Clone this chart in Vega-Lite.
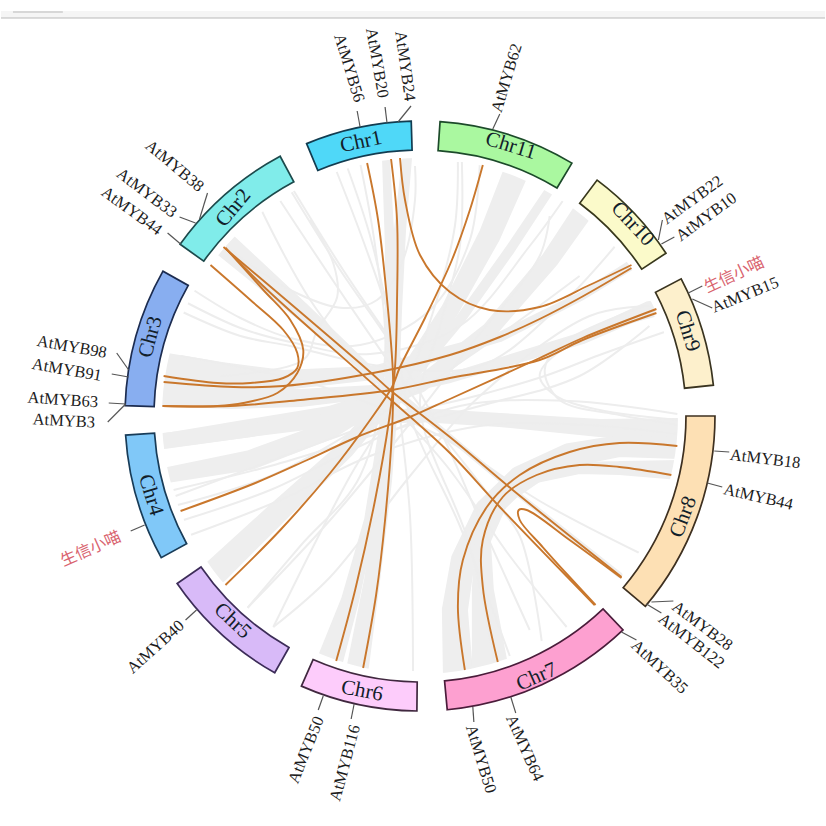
{
"$schema":"https://vega.github.io/schema/vega-lite/v6.json",
"width":826,"height":826,
"autosize":{"type":"fit","contains":"padding"},
"padding":0,
"background":"#ffffff",
"view":{"stroke":null},
"datasets":{
"chroms":[
{"chr":"Chr1","x":0,"y":0,"a0":337.4,"a1":358.3,"r0":266,"r1":295},
{"chr":"Chr11","x":0,"y":0,"a0":3.9,"a1":31,"r0":266,"r1":295},
{"chr":"Chr10","x":0,"y":0,"a0":36.9,"a1":56.5,"r0":266,"r1":295},
{"chr":"Chr9","x":0,"y":0,"a0":62.3,"a1":84,"r0":266,"r1":295},
{"chr":"Chr8","x":0,"y":0,"a0":90,"a1":130.2,"r0":266,"r1":295},
{"chr":"Chr7","x":0,"y":0,"a0":136.5,"a1":174.7,"r0":266,"r1":295},
{"chr":"Chr6","x":0,"y":0,"a0":180.6,"a1":203.7,"r0":266,"r1":295},
{"chr":"Chr5","x":0,"y":0,"a0":209.5,"a1":235.4,"r0":266,"r1":295},
{"chr":"Chr4","x":0,"y":0,"a0":241.3,"a1":266.3,"r0":266,"r1":295},
{"chr":"Chr3","x":0,"y":0,"a0":272,"a1":299.4,"r0":266,"r1":295},
{"chr":"Chr2","x":0,"y":0,"a0":305.6,"a1":331.7,"r0":266,"r1":295}
],
"chromLabels":[
{"t":"Chr1","x":-59,"y":-274,"rot":-12},
{"t":"Chr11","x":91,"y":-270,"rot":17},
{"t":"Chr10","x":213,"y":-192,"rot":47},
{"t":"Chr9","x":268,"y":-85,"rot":73},
{"t":"Chr8","x":264,"y":101,"rot":-69},
{"t":"Chr7","x":117,"y":261,"rot":-24},
{"t":"Chr6","x":-58,"y":275,"rot":11},
{"t":"Chr5","x":-188,"y":205,"rot":43},
{"t":"Chr4","x":-270,"y":79,"rot":73},
{"t":"Chr3","x":-270,"y":-79,"rot":-75},
{"t":"Chr2","x":-187,"y":-208,"rot":-50}
],
"genes":[
{"t":"AtMYB56","x":-71,"y":-348,"rot":73},
{"t":"AtMYB20","x":-43,"y":-353,"rot":80},
{"t":"AtMYB24","x":-15,"y":-350,"rot":82},
{"t":"AtMYB62","x":87,"y":-338,"rot":-73},
{"t":"AtMYB22","x":273,"y":-216,"rot":-36},
{"t":"AtMYB10","x":287,"y":-199,"rot":-36},
{"t":"AtMYB15","x":326,"y":-121,"rot":-22},
{"t":"AtMYB18","x":346,"y":43,"rot":7},
{"t":"AtMYB44","x":339,"y":81,"rot":13},
{"t":"AtMYB28","x":283,"y":210,"rot":37},
{"t":"AtMYB122","x":272,"y":225,"rot":38},
{"t":"AtMYB35","x":240,"y":251,"rot":43},
{"t":"AtMYB64","x":105,"y":332,"rot":66},
{"t":"AtMYB50","x":61,"y":343,"rot":73},
{"t":"AtMYB116","x":-75,"y":347,"rot":-75},
{"t":"AtMYB50","x":-114,"y":334,"rot":-68},
{"t":"AtMYB40","x":-265,"y":231,"rot":-42},
{"t":"AtMYB3","x":-357,"y":5,"rot":3},
{"t":"AtMYB63","x":-358,"y":-16,"rot":4},
{"t":"AtMYB91","x":-354,"y":-46,"rot":10},
{"t":"AtMYB98","x":-349,"y":-69,"rot":10},
{"t":"AtMYB44","x":-289,"y":-205,"rot":36},
{"t":"AtMYB33","x":-274,"y":-223,"rot":37},
{"t":"AtMYB38","x":-246,"y":-250,"rot":40}
],
"marks":[
{"t":"生信小喵","x":315,"y":-141,"rot":-25},
{"t":"生信小喵","x":-330,"y":133,"rot":-24}
],
"leaders":[
{"x":-63,"y":-305,"x2":-60,"y2":-289},
{"x":-35,"y":-309,"x2":-33,"y2":-293},
{"x":-9,"y":-310,"x2":-22,"y2":-294},
{"x":80,"y":-302,"x2":73,"y2":-287},
{"x":243,"y":-196,"x2":239,"y2":-176},
{"x":255,"y":-179,"x2":242,"y2":-172},
{"x":283,"y":-130,"x2":269,"y2":-123},
{"x":293,"y":-108,"x2":273,"y2":-117},
{"x":295,"y":35,"x2":310,"y2":36},
{"x":288,"y":67,"x2":303,"y2":71},
{"x":232,"y":186,"x2":254,"y2":185},
{"x":227,"y":188,"x2":242,"y2":197},
{"x":202,"y":216,"x2":217,"y2":224},
{"x":91,"y":281,"x2":96,"y2":297},
{"x":53,"y":291,"x2":54,"y2":306},
{"x":-66,"y":288,"x2":-69,"y2":303},
{"x":-97,"y":280,"x2":-102,"y2":294},
{"x":-224,"y":194,"x2":-235,"y2":204},
{"x":-276,"y":109,"x2":-290,"y2":115},
{"x":-295,"y":-12,"x2":-313,"y2":6},
{"x":-295,"y":-12,"x2":-312,"y2":-13},
{"x":-292,"y":-39,"x2":-309,"y2":-42},
{"x":-292,"y":-46,"x2":-304,"y2":-63},
{"x":-240,"y":-172,"x2":-253,"y2":-183},
{"x":-225,"y":-193,"x2":-241,"y2":-199},
{"x":-221,"y":-197,"x2":-213,"y2":-223}
],
"ribbons":[
{"id":"T1","i":0,"x":-13,"y":-258,"w":10},{"id":"T1","i":1,"x":-20,"y":-186,"w":12},{"id":"T1","i":2,"x":-24,"y":-106,"w":12},{"id":"T1","i":3,"x":-27,"y":-26,"w":12},{"id":"T1","i":4,"x":-35,"y":64,"w":14},{"id":"T1","i":5,"x":-48,"y":164,"w":16},{"id":"T1","i":6,"x":-62,"y":249,"w":22},
{"id":"T2","i":0,"x":-34,"y":-256,"w":8},{"id":"T2","i":1,"x":-30,"y":-166,"w":10},{"id":"T2","i":2,"x":-30,"y":-26,"w":10},{"id":"T2","i":3,"x":-50,"y":104,"w":12},{"id":"T2","i":4,"x":-70,"y":184,"w":18},{"id":"T2","i":5,"x":-90,"y":244,"w":26},
{"id":"T3","i":0,"x":95,"y":-241,"w":25},{"id":"T3","i":1,"x":70,"y":-181,"w":22},{"id":"T3","i":2,"x":30,"y":-106,"w":18},{"id":"T3","i":3,"x":-20,"y":-31,"w":16},{"id":"T3","i":4,"x":-75,"y":34,"w":18},{"id":"T3","i":5,"x":-140,"y":94,"w":22},{"id":"T3","i":6,"x":-204,"y":155,"w":26},
{"id":"T4","i":0,"x":128,"y":-223,"w":9},{"id":"T4","i":1,"x":90,"y":-166,"w":10},{"id":"T4","i":2,"x":40,"y":-96,"w":10},{"id":"T4","i":3,"x":-20,"y":-26,"w":12},{"id":"T4","i":4,"x":-90,"y":14,"w":18},{"id":"T4","i":5,"x":-170,"y":44,"w":20},{"id":"T4","i":6,"x":-253,"y":59,"w":16},
{"id":"T5","i":0,"x":163,"y":-204,"w":20},{"id":"T5","i":1,"x":130,"y":-156,"w":18},{"id":"T5","i":2,"x":70,"y":-86,"w":16},{"id":"T5","i":3,"x":0,"y":-31,"w":16},{"id":"T5","i":4,"x":-90,"y":-1,"w":18},{"id":"T5","i":5,"x":-170,"y":12,"w":18},{"id":"T5","i":6,"x":-257,"y":25,"w":15},
{"id":"T6","i":0,"x":210,"y":-150,"w":10},{"id":"T6","i":1,"x":162,"y":-120,"w":9},{"id":"T6","i":2,"x":80,"y":-79,"w":10},{"id":"T6","i":3,"x":-47,"y":-43,"w":14},{"id":"T6","i":4,"x":-137,"y":-36,"w":20},{"id":"T6","i":5,"x":-200,"y":-41,"w":26},{"id":"T6","i":6,"x":-255,"y":-48,"w":30},
{"id":"T7","i":0,"x":230,"y":-108,"w":14},{"id":"T7","i":1,"x":163,"y":-78,"w":12},{"id":"T7","i":2,"x":30,"y":-38,"w":10},{"id":"T7","i":3,"x":-28,"y":-26,"w":12},{"id":"T7","i":4,"x":-120,"y":-18,"w":18},{"id":"T7","i":5,"x":-190,"y":-18,"w":22},{"id":"T7","i":6,"x":-257,"y":-23,"w":26},
{"id":"T8","i":0,"x":-195,"y":-171,"w":25},{"id":"T8","i":1,"x":-120,"y":-106,"w":18},{"id":"T8","i":2,"x":-50,"y":-44,"w":10},{"id":"T8","i":3,"x":30,"y":21,"w":6},{"id":"T8","i":4,"x":93,"y":74,"w":5},{"id":"T8","i":5,"x":200,"y":159,"w":6},
{"id":"T10","i":0,"x":260,"y":14,"w":24},{"id":"T10","i":1,"x":180,"y":12,"w":18},{"id":"T10","i":2,"x":80,"y":4,"w":14},{"id":"T10","i":3,"x":0,"y":-1,"w":14},{"id":"T10","i":4,"x":-90,"y":4,"w":14},{"id":"T10","i":5,"x":-170,"y":14,"w":14},{"id":"T10","i":6,"x":-257,"y":25,"w":16},
{"id":"T11","i":0,"x":260,"y":32,"w":22},{"id":"T11","i":1,"x":200,"y":30,"w":22},{"id":"T11","i":2,"x":150,"y":39,"w":24},{"id":"T11","i":3,"x":100,"y":62,"w":24},{"id":"T11","i":4,"x":67,"y":94,"w":24},{"id":"T11","i":5,"x":43,"y":144,"w":24},{"id":"T11","i":6,"x":35,"y":194,"w":26},{"id":"T11","i":7,"x":38,"y":256,"w":30},
{"id":"T12","i":0,"x":260,"y":54,"w":20},{"id":"T12","i":1,"x":200,"y":52,"w":14},{"id":"T12","i":2,"x":160,"y":52,"w":12},{"id":"T12","i":3,"x":117,"y":62,"w":10},{"id":"T12","i":4,"x":83,"y":84,"w":12},{"id":"T12","i":5,"x":63,"y":124,"w":16},{"id":"T12","i":6,"x":63,"y":174,"w":22},{"id":"T12","i":7,"x":70,"y":249,"w":36}
],
"thin":[
{"id":"n1","i":0,"x":-85,"y":-248},{"id":"n1","i":1,"x":-55,"y":-170},{"id":"n1","i":2,"x":-25,"y":-80},{"id":"n1","i":3,"x":-10,"y":0},{"id":"n1","i":4,"x":40,"y":110},{"id":"n1","i":5,"x":90,"y":240},
{"id":"n2","i":0,"x":-73,"y":-249},{"id":"n2","i":1,"x":-50,"y":-180},{"id":"n2","i":2,"x":-30,"y":-90},{"id":"n2","i":3,"x":-20,"y":0},{"id":"n2","i":4,"x":-10,"y":100},{"id":"n2","i":5,"x":-7,"y":255},
{"id":"n3","i":0,"x":-60,"y":-253},{"id":"n3","i":1,"x":-45,"y":-170},{"id":"n3","i":2,"x":-35,"y":-60},{"id":"n3","i":3,"x":-60,"y":60},{"id":"n3","i":4,"x":-120,"y":130},{"id":"n3","i":5,"x":-173,"y":192},
{"id":"n4","i":0,"x":38,"y":-254},{"id":"n4","i":1,"x":35,"y":-190},{"id":"n4","i":2,"x":15,"y":-110},{"id":"n4","i":3,"x":-15,"y":-30},{"id":"n4","i":4,"x":-70,"y":60},{"id":"n4","i":5,"x":-147,"y":211},
{"id":"n5","i":0,"x":42,"y":-254},{"id":"n5","i":1,"x":40,"y":-170},{"id":"n5","i":2,"x":20,"y":-90},{"id":"n5","i":3,"x":0,"y":-10},{"id":"n5","i":4,"x":50,"y":130},{"id":"n5","i":5,"x":75,"y":250},
{"id":"n6","i":0,"x":-227,"y":-126},{"id":"n6","i":1,"x":-180,"y":-98},{"id":"n6","i":2,"x":-130,"y":-78},{"id":"n6","i":3,"x":-60,"y":-71},{"id":"n6","i":4,"x":10,"y":-106},{"id":"n6","i":5,"x":50,"y":-176},{"id":"n6","i":6,"x":60,"y":-253},
{"id":"n7","i":0,"x":-235,"y":-114},{"id":"n7","i":1,"x":-180,"y":-88},{"id":"n7","i":2,"x":-130,"y":-74},{"id":"n7","i":3,"x":-50,"y":-62},{"id":"n7","i":4,"x":40,"y":-90},{"id":"n7","i":5,"x":110,"y":-170},{"id":"n7","i":6,"x":150,"y":-225},
{"id":"n8","i":0,"x":-238,"y":-104},{"id":"n8","i":1,"x":-180,"y":-80},{"id":"n8","i":2,"x":-130,"y":-70},{"id":"n8","i":3,"x":-40,"y":-50},{"id":"n8","i":4,"x":60,"y":-50},{"id":"n8","i":5,"x":140,"y":-110},{"id":"n8","i":6,"x":200,"y":-175},
{"id":"n9","i":0,"x":245,"y":-84},{"id":"n9","i":1,"x":180,"y":-61},{"id":"n9","i":2,"x":128,"y":-41},{"id":"n9","i":3,"x":60,"y":-21},{"id":"n9","i":4,"x":-20,"y":-1},{"id":"n9","i":5,"x":-120,"y":34},{"id":"n9","i":6,"x":-245,"y":80},
{"id":"n10","i":0,"x":235,"y":-100},{"id":"n10","i":1,"x":150,"y":-71},{"id":"n10","i":2,"x":120,"y":-41},{"id":"n10","i":3,"x":135,"y":-21},{"id":"n10","i":4,"x":180,"y":-6},{"id":"n10","i":5,"x":260,"y":4},
{"id":"n11","i":0,"x":225,"y":-110},{"id":"n11","i":1,"x":140,"y":-71},{"id":"n11","i":2,"x":125,"y":-46},{"id":"n11","i":3,"x":140,"y":-16},{"id":"n11","i":4,"x":200,"y":-1},{"id":"n11","i":5,"x":260,"y":9},
{"id":"n12","i":0,"x":-130,"y":-226},{"id":"n12","i":1,"x":-80,"y":-146},{"id":"n12","i":2,"x":-25,"y":-66},{"id":"n12","i":3,"x":20,"y":14},{"id":"n12","i":4,"x":60,"y":104},{"id":"n12","i":5,"x":110,"y":214},
{"id":"n12b","i":0,"x":-127,"y":-226},{"id":"n12b","i":1,"x":-77,"y":-146},{"id":"n12b","i":2,"x":-22,"y":-66},
{"id":"n13","i":0,"x":-160,"y":-208},{"id":"n13","i":1,"x":-110,"y":-116},{"id":"n13","i":2,"x":-40,"y":-26},{"id":"n13","i":3,"x":30,"y":54},{"id":"n13","i":4,"x":90,"y":140},{"id":"n13","i":5,"x":147,"y":211},
{"id":"n14","i":0,"x":-110,"y":-196},{"id":"n14","i":1,"x":-87,"y":-153},{"id":"n14","i":2,"x":-83,"y":-119},{"id":"n14","i":3,"x":-103,"y":-86},{"id":"n14","i":4,"x":-117,"y":-56},{"id":"n14","i":5,"x":-200,"y":-40},
{"id":"n15","i":0,"x":-195,"y":-170},{"id":"n15","i":1,"x":-130,"y":-126},{"id":"n15","i":2,"x":-77,"y":-108},{"id":"n15","i":3,"x":-43,"y":-116},{"id":"n15","i":4,"x":-17,"y":-156},{"id":"n15","i":5,"x":-5,"y":-216},{"id":"n15","i":6,"x":-5,"y":-250},
{"id":"n16","i":0,"x":-173,"y":192},{"id":"n16","i":1,"x":-90,"y":104},{"id":"n16","i":2,"x":-20,"y":20},{"id":"n16","i":3,"x":50,"y":-70},{"id":"n16","i":4,"x":120,"y":-160},{"id":"n16","i":5,"x":130,"y":-200},
{"id":"n17","i":0,"x":-147,"y":211},{"id":"n17","i":1,"x":-90,"y":161},{"id":"n17","i":2,"x":-10,"y":60},{"id":"n17","i":3,"x":60,"y":-20},{"id":"n17","i":4,"x":170,"y":-100},{"id":"n17","i":5,"x":230,"y":-110},
{"id":"n18","i":0,"x":-247,"y":74},{"id":"n18","i":1,"x":-150,"y":50},{"id":"n18","i":2,"x":-50,"y":20},{"id":"n18","i":3,"x":60,"y":-10},{"id":"n18","i":4,"x":160,"y":-40},{"id":"n18","i":5,"x":230,"y":-90},
{"id":"n19","i":0,"x":-243,"y":89},{"id":"n19","i":1,"x":-150,"y":60},{"id":"n19","i":2,"x":-50,"y":5},{"id":"n19","i":3,"x":50,"y":-60},{"id":"n19","i":4,"x":160,"y":-140},
{"id":"n20","i":0,"x":-237,"y":104},{"id":"n20","i":1,"x":-150,"y":74},{"id":"n20","i":2,"x":-60,"y":30},{"id":"n20","i":3,"x":40,"y":-10},{"id":"n20","i":4,"x":150,"y":-15},{"id":"n20","i":5,"x":258,"y":-2},
{"id":"n21","i":0,"x":-230,"y":119},{"id":"n21","i":1,"x":-140,"y":84},{"id":"n21","i":2,"x":-50,"y":40},{"id":"n21","i":3,"x":60,"y":10},{"id":"n21","i":4,"x":150,"y":8},{"id":"n21","i":5,"x":258,"y":18},
{"id":"n24","i":0,"x":-140,"y":-215},{"id":"n24","i":1,"x":-70,"y":-110},{"id":"n24","i":2,"x":0,"y":-10},{"id":"n24","i":3,"x":70,"y":80},{"id":"n24","i":4,"x":100,"y":120},{"id":"n24","i":5,"x":122,"y":225},
{"id":"n25","i":0,"x":-240,"y":-60},{"id":"n25","i":1,"x":-100,"y":-30},{"id":"n25","i":2,"x":20,"y":20},{"id":"n25","i":3,"x":120,"y":85},{"id":"n25","i":4,"x":220,"y":137}
],
"links":[
{"id":"a","i":0,"x":-53,"y":-253},{"id":"a","i":1,"x":-42,"y":-196},{"id":"a","i":2,"x":-32,"y":-106},{"id":"a","i":3,"x":-27,"y":-39},{"id":"a","i":4,"x":-28,"y":14},{"id":"a","i":5,"x":-35,"y":104},{"id":"a","i":6,"x":-44,"y":179},{"id":"a","i":7,"x":-57,"y":252},
{"id":"b","i":0,"x":-29,"y":-257},{"id":"b","i":1,"x":-23,"y":-196},{"id":"b","i":2,"x":-23,"y":-116},{"id":"b","i":3,"x":-25,"y":-49},{"id":"b","i":4,"x":-31,"y":4},{"id":"b","i":5,"x":-45,"y":84},{"id":"b","i":6,"x":-65,"y":174},{"id":"b","i":7,"x":-84,"y":245},
{"id":"c","i":0,"x":-20,"y":-258},{"id":"c","i":1,"x":-15,"y":-216},{"id":"c","i":2,"x":0,"y":-161},{"id":"c","i":3,"x":30,"y":-124},{"id":"c","i":4,"x":70,"y":-106},{"id":"c","i":5,"x":120,"y":-109},{"id":"c","i":6,"x":170,"y":-131},{"id":"c","i":7,"x":212,"y":-151},
{"id":"d","i":0,"x":63,"y":-251},{"id":"d","i":1,"x":50,"y":-206},{"id":"d","i":2,"x":32,"y":-156},{"id":"d","i":3,"x":5,"y":-98},{"id":"d","i":4,"x":-20,"y":-49},{"id":"d","i":5,"x":-28,"y":-29},{"id":"d","i":6,"x":-50,"y":4},{"id":"d","i":7,"x":-90,"y":57},{"id":"d","i":8,"x":-140,"y":114},{"id":"d","i":9,"x":-195,"y":169},
{"id":"e","i":0,"x":212,"y":-148},{"id":"e","i":1,"x":162,"y":-119},{"id":"e","i":2,"x":120,"y":-97},{"id":"e","i":3,"x":80,"y":-79},{"id":"e","i":4,"x":30,"y":-61},{"id":"e","i":5,"x":-47,"y":-43},{"id":"e","i":6,"x":-137,"y":-30},{"id":"e","i":7,"x":-187,"y":-29},{"id":"e","i":8,"x":-257,"y":-34},
{"id":"f","i":0,"x":237,"y":-103},{"id":"f","i":1,"x":163,"y":-76},{"id":"f","i":2,"x":120,"y":-56},{"id":"f","i":3,"x":30,"y":-38},{"id":"f","i":4,"x":-28,"y":-26},{"id":"f","i":5,"x":-120,"y":-16},{"id":"f","i":6,"x":-190,"y":-10},{"id":"f","i":7,"x":-258,"y":-10},
{"id":"g","i":0,"x":237,"y":-107},{"id":"g","i":1,"x":163,"y":-78},{"id":"g","i":2,"x":120,"y":-58},{"id":"g","i":3,"x":30,"y":-17},{"id":"g","i":4,"x":-10,"y":1},{"id":"g","i":5,"x":-63,"y":21},{"id":"g","i":6,"x":-113,"y":44},{"id":"g","i":7,"x":-165,"y":67},{"id":"g","i":8,"x":-240,"y":95},
{"id":"m","i":0,"x":-210,"y":-151},{"id":"m","i":1,"x":-170,"y":-116},{"id":"m","i":2,"x":-137,"y":-86},{"id":"m","i":3,"x":-123,"y":-63},{"id":"m","i":4,"x":-123,"y":-48},{"id":"m","i":5,"x":-137,"y":-38},{"id":"m","i":6,"x":-170,"y":-33},{"id":"m","i":7,"x":-203,"y":-33},{"id":"m","i":8,"x":-257,"y":-40},
{"id":"o","i":0,"x":-195,"y":-168},{"id":"o","i":1,"x":-157,"y":-126},{"id":"o","i":2,"x":-130,"y":-96},{"id":"o","i":3,"x":-117,"y":-66},{"id":"o","i":4,"x":-123,"y":-43},{"id":"o","i":5,"x":-143,"y":-23},{"id":"o","i":6,"x":-177,"y":-13},{"id":"o","i":7,"x":-203,"y":-10},{"id":"o","i":8,"x":-258,"y":-10},
{"id":"h","i":0,"x":-197,"y":-169},{"id":"h","i":1,"x":-120,"y":-104},{"id":"h","i":2,"x":-50,"y":-44},{"id":"h","i":3,"x":-30,"y":-26},{"id":"h","i":4,"x":30,"y":21},{"id":"h","i":5,"x":93,"y":74},{"id":"h","i":6,"x":202,"y":161},
{"id":"p","i":0,"x":-195,"y":-168},{"id":"p","i":1,"x":-153,"y":-126},{"id":"p","i":2,"x":-37,"y":-23},{"id":"p","i":3,"x":30,"y":37},{"id":"p","i":4,"x":80,"y":91},{"id":"p","i":5,"x":175,"y":189},
{"id":"j","i":0,"x":202,"y":162},{"id":"j","i":1,"x":150,"y":124},{"id":"j","i":2,"x":107,"y":94},{"id":"j","i":3,"x":99,"y":94},{"id":"j","i":4,"x":100,"y":104},{"id":"j","i":5,"x":123,"y":131},{"id":"j","i":6,"x":150,"y":161},{"id":"j","i":7,"x":176,"y":189},
{"id":"k","i":0,"x":258,"y":30},{"id":"k","i":1,"x":200,"y":27},{"id":"k","i":2,"x":150,"y":36},{"id":"k","i":3,"x":100,"y":59},{"id":"k","i":4,"x":67,"y":91},{"id":"k","i":5,"x":43,"y":144},{"id":"k","i":6,"x":38,"y":191},{"id":"k","i":7,"x":45,"y":254},
{"id":"l","i":0,"x":252,"y":59},{"id":"l","i":1,"x":200,"y":51},{"id":"l","i":2,"x":160,"y":49},{"id":"l","i":3,"x":117,"y":59},{"id":"l","i":4,"x":83,"y":81},{"id":"l","i":5,"x":63,"y":124},{"id":"l","i":6,"x":63,"y":171},{"id":"l","i":7,"x":78,"y":246}
]
},
"encoding":{
"x":{"field":"x","type":"quantitative","axis":null,"scale":{"domain":[-420,406]}},
"y":{"field":"y","type":"quantitative","axis":null,"scale":{"domain":[-416,410],"reverse":true}}
},
"layer":[
{"data":{"values":[{"x":-420,"x2":406,"y":-405,"y2":-398}]},
 "mark":{"type":"rect","fill":"#f5f5f5"},
 "encoding":{"x2":{"field":"x2"},"y2":{"field":"y2"}}},
{"data":{"values":[{"x":-420,"x2":406,"y":-398,"y2":-398},{"x":-408,"x2":-358,"y":-404,"y2":-404}]},
 "mark":{"type":"rule","color":"#b9b9b9","strokeWidth":1},
 "encoding":{"x2":{"field":"x2"},"y2":{"field":"y2"}}},
{"data":{"name":"ribbons"},
 "mark":{"type":"trail","color":"#eeeeee"},
 "encoding":{
  "detail":{"field":"id"},
  "order":{"field":"i","type":"ordinal"},
  "size":{"field":"w","type":"quantitative","legend":null,"scale":{"type":"linear","domain":[0,50],"range":[0,50]}}
 }},
{"data":{"name":"thin"},
 "mark":{"type":"line","color":"#ededed","strokeWidth":2,"interpolate":"catmull-rom"},
 "encoding":{"detail":{"field":"id"},"order":{"field":"i","type":"ordinal"}}},
{"data":{"values":[{"x":0,"y":0,"a0":0,"a1":360,"r0":258,"r1":300}]},
 "mark":{"type":"arc","fill":"#ffffff"},
 "encoding":{
  "theta":{"field":"a0","type":"quantitative","scale":{"domain":[0,360],"range":[0,6.28319]}},
  "theta2":{"field":"a1"},
  "radius":{"field":"r0","type":"quantitative","scale":{"type":"linear","domain":[0,413],"range":[0,413]}},
  "radius2":{"field":"r1"}
 }},
{"data":{"name":"links"},
 "mark":{"type":"line","color":"#c9772c","strokeWidth":1.9,"interpolate":"catmull-rom"},
 "encoding":{"detail":{"field":"id"},"order":{"field":"i","type":"ordinal"}}},
{"data":{"name":"chroms"},
 "mark":{"type":"arc","strokeWidth":1.7},
 "encoding":{
  "theta":{"field":"a0","type":"quantitative","scale":{"domain":[0,360],"range":[0,6.28319]}},
  "theta2":{"field":"a1"},
  "radius":{"field":"r0","type":"quantitative","scale":{"type":"linear","domain":[0,413],"range":[0,413]}},
  "radius2":{"field":"r1"},
  "fill":{"field":"chr","type":"nominal","legend":null,"scale":{
   "domain":["Chr1","Chr2","Chr3","Chr4","Chr5","Chr6","Chr7","Chr8","Chr9","Chr10","Chr11"],
   "range":["#4fd8f8","#80ecea","#88aef0","#80c8f8","#d8baf8","#fdccfb","#fda0d0","#fde0b4","#fdf0cc","#fbfaca","#aaf8a0"]}},
  "stroke":{"field":"chr","type":"nominal","legend":null,"scale":{
   "domain":["Chr1","Chr2","Chr3","Chr4","Chr5","Chr6","Chr7","Chr8","Chr9","Chr10","Chr11"],
   "range":["#123c50","#1c4a4c","#1c2c50","#183c58","#3c2c58","#40283f","#4a1c3a","#3e3020","#3a3420","#38381c","#1c4a2a"]}}
 }},
{"data":{"name":"leaders"},
 "mark":{"type":"rule","color":"#555555","strokeWidth":1.2},
 "encoding":{"x2":{"field":"x2"},"y2":{"field":"y2"}}},
{"data":{"name":"chromLabels"},
 "mark":{"type":"text","font":"Liberation Serif","fontSize":21,"color":"#12202a","align":"center","baseline":"middle"},
 "encoding":{"text":{"field":"t"},"angle":{"field":"rot","type":"quantitative","scale":null}}},
{"data":{"name":"genes"},
 "mark":{"type":"text","font":"Liberation Serif","fontSize":16.5,"color":"#1c1c1c","align":"center","baseline":"middle"},
 "encoding":{"text":{"field":"t"},"angle":{"field":"rot","type":"quantitative","scale":null}}},
{"data":{"name":"marks"},
 "mark":{"type":"text","font":"Noto Sans CJK SC","fontSize":16,"color":"#d9636e","align":"center","baseline":"middle"},
 "encoding":{"text":{"field":"t"},"angle":{"field":"rot","type":"quantitative","scale":null}}}
]
}
